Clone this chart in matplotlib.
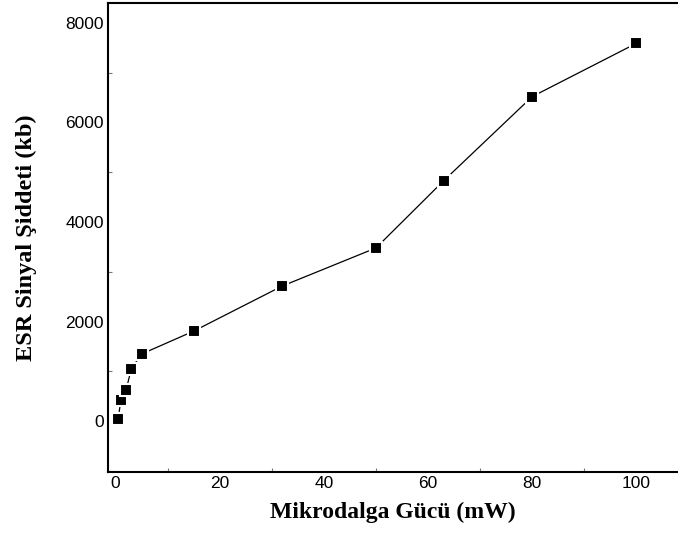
import numpy as np
import matplotlib.pyplot as plt
from matplotlib.ticker import MultipleLocator

# values
guc = [0.5, 1, 2, 3, 5, 15, 32, 50, 63, 80, 100]
siddet = [50, 420, 620, 1050, 1350, 1810, 2715, 3480, 4830, 6520, 7590]

fig = plt.figure(figsize=(6.78, 5.38), dpi=100)
ax = fig.add_axes([0.159, 0.1227, 0.841, 0.8717])

ax.plot(guc, siddet, color='black', lw=0.9, marker='s', markersize=9,
        markerfacecolor='black', markeredgecolor='white', markeredgewidth=1.5)

ax.set_xlim(-1.5, 108)
ax.set_ylim(-1020, 8400)
ax.xaxis.set_major_locator(MultipleLocator(20))
ax.xaxis.set_minor_locator(MultipleLocator(10))
ax.yaxis.set_major_locator(MultipleLocator(2000))
ax.yaxis.set_minor_locator(MultipleLocator(1000))

ax.tick_params(which='major', length=0, pad=3, labelsize=12.5)
ax.tick_params(which='minor', direction='in', length=3, width=0.8, color='#777777')
for lab in ax.get_xticklabels() + ax.get_yticklabels():
    lab.set_family('Liberation Sans')

ax.spines['right'].set_visible(False)
for s in ['left', 'bottom', 'top']:
    ax.spines[s].set_linewidth(1.5)

ax.set_xlabel('Mikrodalga Gücü (mW)', family='Liberation Serif', fontweight='bold',
              fontsize=17, labelpad=8)
ax.set_ylabel('ESR Sinyal Şiddeti (kb)', family='Liberation Serif', fontweight='bold',
              fontsize=17.5, labelpad=20)

fig.savefig('out.png', dpi=100)
